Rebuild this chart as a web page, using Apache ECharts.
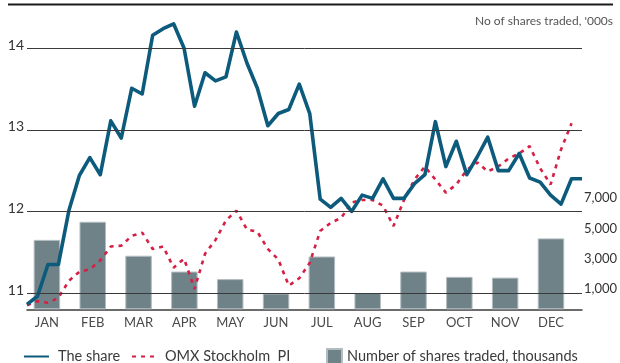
<!DOCTYPE html>
<html>
<head>
<meta charset="utf-8">
<script src="https://cdn.jsdelivr.net/npm/echarts@6/dist/echarts.min.js"></script>
<style>
  html, body { margin: 0; padding: 0; background: #fff; }
  #chart { width: 620px; height: 363px; }
</style>
</head>
<body>
<div id="chart"></div>
<script>
// Monthly trading volume, thousands of shares
const months = ['JAN', 'FEB', 'MAR', 'APR', 'MAY', 'JUN', 'JUL', 'AUG', 'SEP', 'OCT', 'NOV', 'DEC'];
const volume = [4600, 5800, 3550, 2500, 2000, 1050, 3500, 1080, 2500, 2150, 2100, 4700];

// Weekly closing price of the share
const sharePrice = [
  10.86, 10.96, 11.35, 11.35, 12.01, 12.44, 12.66, 12.45, 13.11, 12.90,
  13.51, 13.44, 14.16, 14.24, 14.30, 14.00, 13.29, 13.70, 13.60, 13.65,
  14.20, 13.82, 13.51, 13.05, 13.20, 13.25, 13.56, 13.20, 12.15, 12.05,
  12.16, 12.00, 12.20, 12.16, 12.40, 12.16, 12.16, 12.34, 12.45, 13.10,
  12.55, 12.86, 12.45, 12.67, 12.91, 12.50, 12.50, 12.71, 12.41, 12.36,
  12.20, 12.09, 12.40, 12.40
];

// OMX Stockholm PI, weekly, rebased to the share price
const omxIndex = [
  10.85, 10.90, 10.88, 10.94, 11.15, 11.26, 11.29, 11.40, 11.57, 11.58,
  11.70, 11.74, 11.54, 11.57, 11.31, 11.42, 11.05, 11.48, 11.65, 11.89,
  12.01, 11.78, 11.75, 11.54, 11.41, 11.09, 11.18, 11.37, 11.76, 11.86,
  11.92, 12.11, 12.14, 12.14, 12.07, 11.82, 12.14, 12.39, 12.55, 12.39,
  12.23, 12.33, 12.51, 12.60, 12.49, 12.55, 12.65, 12.71, 12.80, 12.53,
  12.33, 12.76, 13.08
];

const priceTicks = [11, 12, 13, 14];
const volumeTicks = [1000, 3000, 5000, 7000];
const weeks = sharePrice.map((_, i) => i + 1);

const FONT = 'Lato';
const TEAL = '#0d5b7c';
const RED = '#d61f45';
const BAR = '#6f8288';

const chart = echarts.init(document.getElementById('chart'), null, { renderer: 'canvas' });

const legendText = { fontFamily: FONT, fontSize: 14.5, color: '#3a3a3a' };
// line legends show only the stroke, no marker
const noMarker = { color: 'rgba(0,0,0,0)', borderWidth: 0, opacity: 0 };

chart.setOption({
  animation: false,
  title: {
    text: "No of shares traded, '000s",
    right: 7,
    top: 15,
    padding: 0,
    textStyle: { fontFamily: FONT, fontSize: 12, fontWeight: 'normal', color: '#555' }
  },
  legend: [
    {
      data: ['The share'], left: 23, top: 349, padding: 0,
      itemWidth: 25, itemHeight: 14, itemStyle: noMarker,
      textStyle: Object.assign({ padding: [0, 0, 0, 4] }, legendText)
    },
    {
      data: ['OMX Stockholm  PI'], left: 131, top: 349, padding: 0,
      itemWidth: 25, itemHeight: 14, itemStyle: noMarker,
      textStyle: Object.assign({ padding: [0, 0, 0, 3] }, legendText)
    },
    {
      data: ['Number of shares traded, thousands'], left: 326, top: 348, padding: 0,
      itemWidth: 15, itemHeight: 15, icon: 'rect',
      textStyle: legendText
    }
  ],
  grid: [
    { left: 27, right: 38, top: 7.5, bottom: 53.7 },
    { left: 24, right: 45.6, top: 7.5, bottom: 53.7 }
  ],
  xAxis: [
    {
      gridIndex: 0, type: 'category', data: weeks, boundaryGap: false,
      axisLine: { show: true, lineStyle: { color: '#3c3c3c', width: 1.5 } },
      axisTick: { show: false }, axisLabel: { show: false }, splitLine: { show: false }
    },
    {
      gridIndex: 1, type: 'category', data: months,
      axisLine: { show: false }, axisTick: { show: false }, splitLine: { show: false },
      axisLabel: { fontFamily: FONT, fontSize: 13, color: '#4a4a4a', margin: 7 }
    }
  ],
  yAxis: [
    {
      gridIndex: 0, type: 'value', min: 10.8, max: 14.5, interval: 0.1,
      axisLine: { show: false }, axisTick: { show: false }, splitLine: { show: false },
      axisLabel: {
        fontFamily: FONT, fontSize: 14, color: '#333', margin: 3,
        verticalAlign: 'bottom', lineHeight: 6,
        formatter: v => {
          const r = Math.round(v);
          return (Math.abs(v - r) < 1e-6 && priceTicks.includes(r)) ? String(r) : '';
        }
      }
    },
    {
      gridIndex: 1, type: 'value', position: 'right', min: 0, max: 20000, interval: 1000,
      axisLine: { show: false }, axisTick: { show: false }, splitLine: { show: false },
      axisLabel: {
        fontFamily: FONT, fontSize: 13, color: '#333', margin: 10, align: 'left',
        verticalAlign: 'bottom', lineHeight: 11,
        formatter: v => volumeTicks.includes(Math.round(v)) ? Math.round(v).toLocaleString('en-US') : ''
      }
    }
  ],
  series: [
    {
      // carrier for the horizontal price gridlines, kept beneath the bars
      type: 'line', xAxisIndex: 0, yAxisIndex: 0, z: 1,
      data: sharePrice, showSymbol: false, symbol: 'none',
      lineStyle: { opacity: 0 }, silent: true, legendHoverLink: false,
      markLine: {
        silent: true, symbol: ['none', 'none'], label: { show: false },
        lineStyle: { color: '#3a3a3a', width: 1, type: 'solid' },
        emphasis: { disabled: true },
        data: priceTicks.map(v => ({ yAxis: v }))
      }
    },
    {
      name: 'Number of shares traded, thousands',
      type: 'bar', xAxisIndex: 1, yAxisIndex: 1, z: 2,
      data: volume, barWidth: 26.5,
      itemStyle: { color: BAR, borderColor: '#b3bdc1', borderWidth: 1 }
    },
    {
      name: 'OMX Stockholm  PI',
      type: 'line', xAxisIndex: 0, yAxisIndex: 0, z: 3,
      data: omxIndex, symbol: 'none', showSymbol: false,
      itemStyle: { color: RED },
      lineStyle: { color: RED, width: 2.6, type: [4, 5] }
    },
    {
      name: 'The share',
      type: 'line', xAxisIndex: 0, yAxisIndex: 0, z: 4,
      data: sharePrice, symbol: 'none', showSymbol: false,
      itemStyle: { color: TEAL },
      lineStyle: { color: TEAL, width: 3.6, join: 'round' }
    }
  ],
  graphic: [
    {
      type: 'line', z: 10,
      shape: { x1: 8, y1: 4.5, x2: 613, y2: 4.5 },
      style: { stroke: '#1a1a1a', lineWidth: 2 }
    }
  ]
});
</script>
</body>
</html>
